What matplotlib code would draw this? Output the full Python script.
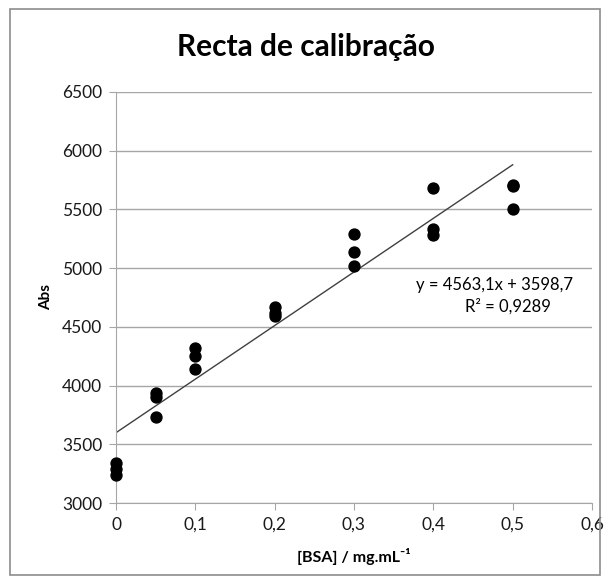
import matplotlib
matplotlib.use("Agg")
import matplotlib.pyplot as plt
from matplotlib.patches import Rectangle
from matplotlib.ticker import FuncFormatter

plt.rcParams['font.family'] = ['Lato', 'DejaVu Sans']

conc = [0, 0, 0, 0.05, 0.05, 0.05, 0.1, 0.1, 0.1, 0.2, 0.2, 0.2,
        0.3, 0.3, 0.3, 0.4, 0.4, 0.4, 0.5, 0.5, 0.5]
absorb = [3340, 3290, 3240, 3935, 3905, 3735, 4320, 4250, 4140,
          4670, 4620, 4590, 5290, 5140, 5020, 5680, 5330, 5280,
          5710, 5700, 5500]
slope = 4563.1
intercept = 3598.7
r2 = 0.9289
fit_x = [0, 0.5]

fig = plt.figure(figsize=(6.11, 5.84), dpi=100)
fig.patches.append(Rectangle((10/611, 9/584), 590/611, 566/584, transform=fig.transFigure,
                             fill=False, edgecolor='#8c8c8c', linewidth=1.2))
ax = fig.add_axes([116/611, 1-503/584, 476/611, 411/584])

ax.set_xlim(0, 0.6)
ax.set_ylim(3000, 6500)
ax.set_xticks([0, 0.1, 0.2, 0.3, 0.4, 0.5, 0.6])
ax.set_yticks(range(3000, 6501, 500))
ax.xaxis.set_major_formatter(FuncFormatter(lambda v, p: ('%g' % round(v, 2)).replace('.', ',')))
ax.grid(axis='y', color='#a6a6a6', linewidth=1)
ax.set_axisbelow(True)
for s in ['top', 'right']:
    ax.spines[s].set_visible(False)
for s in ['left', 'bottom']:
    ax.spines[s].set_color('#a6a6a6')
ax.tick_params(direction='out', color='#a6a6a6', length=5, labelsize=12.5,
               labelcolor='#1a1a1a', pad=5)

ax.scatter(conc, absorb, s=62, color='black', zorder=3, clip_on=False)
ax.plot(fit_x, [intercept + slope * x for x in fit_x], color='#404040', linewidth=1, zorder=2)

ax.text(0.576, 4857, 'y = %sx + %s' % (('%.1f' % slope).replace('.', ','), ('%.1f' % intercept).replace('.', ',')),
        ha='right', va='center', fontsize=12)
ax.text(0.494, 4675, 'R² = %s' % (('%.4f' % r2).replace('.', ',')), ha='center', va='center', fontsize=12)

ax.set_ylabel('Abs', fontsize=11, fontweight='bold', labelpad=6)
ax.set_xlabel('[BSA] / mg.mL⁻¹', fontsize=11.5, fontweight='bold', labelpad=11)
fig.text(0.5, 1-47/584, 'Recta de calibração', ha='center', va='center', fontsize=21.5, fontweight='bold')

fig.savefig('out.png', dpi=100)
